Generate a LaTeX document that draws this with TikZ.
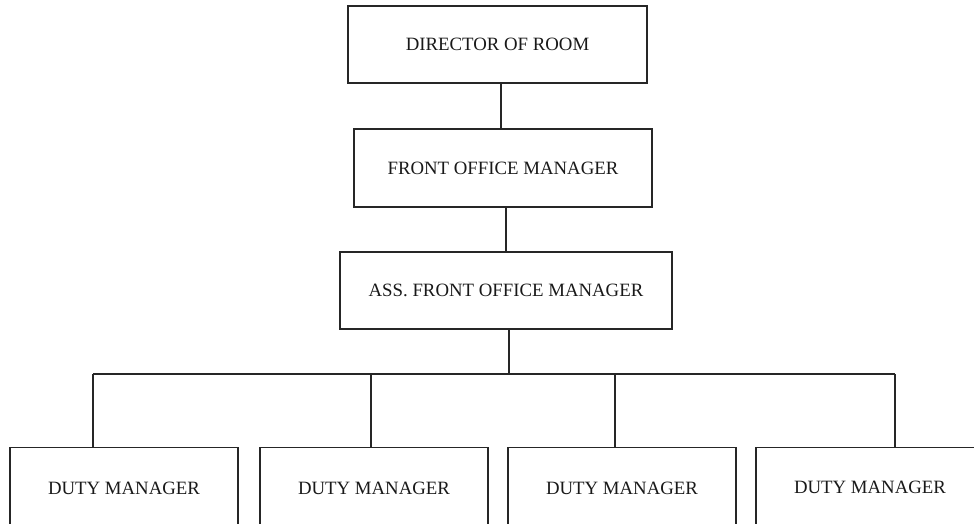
\documentclass[tikz,border=0pt]{standalone}
\usepackage{fontspec}
\setmainfont{Liberation Serif}
\begin{document}
\begin{tikzpicture}[x=1pt,y=-1pt,
  post/.style={draw=black!85, line width=1.25pt, rectangle, inner sep=0pt, outer sep=0pt,
    font=\fontsize{18.8}{22}\selectfont, text=black!90},
  link/.style={draw=black!85, line width=1.25pt}]
\useasboundingbox (0,0) rectangle (974,524);
\clip (0,0) rectangle (974,524);

% chain of command
\node[post, minimum width=299pt, minimum height=77pt] (dir)  at (497.5,44.5) {DIRECTOR OF ROOM};
\node[post, minimum width=298pt, minimum height=78pt] (fom)  at (503,168)    {FRONT OFFICE MANAGER};
\node[post, minimum width=332pt, minimum height=77pt] (afom) at (506,290.5)  {ASS. FRONT OFFICE MANAGER};

% duty managers (boxes run past the lower edge)
\node[post, minimum width=228pt, minimum height=82pt] (d1) at (124,488.5) {DUTY MANAGER};
\node[post, minimum width=228pt, minimum height=82pt] (d2) at (374,488.5) {\raisebox{-3pt}{DUTY MANAGER}};
\node[post, minimum width=228pt, minimum height=82pt] (d3) at (622,488.5) {\raisebox{1pt}{DUTY MANAGER}};
\node[post, minimum width=228pt, minimum height=82pt] (d4) at (870,488.5) {\raisebox{2pt}{DUTY MANAGER}};

% vertical links
\draw[link] (dir.south -| 501,0) -- (fom.north -| 501,0);
\draw[link] (fom.south -| 506,0) -- (afom.north -| 506,0);

% distribution bus
\coordinate (bus) at (509,374);
\coordinate (b1) at (93,374);
\coordinate (b2) at (371,374);
\coordinate (b3) at (615,374);
\coordinate (b4) at (895,374);
\draw[link] (afom.south -| bus) -- (bus);
\draw[link] (b1) -- (b4);
\draw[link] (b1) -- (b1 |- d1.north);
\draw[link] (b2) -- (b2 |- d2.north);
\draw[link] (b3) -- (b3 |- d3.north);
\draw[link] (b4) -- (b4 |- d4.north);
\end{tikzpicture}
\end{document}
